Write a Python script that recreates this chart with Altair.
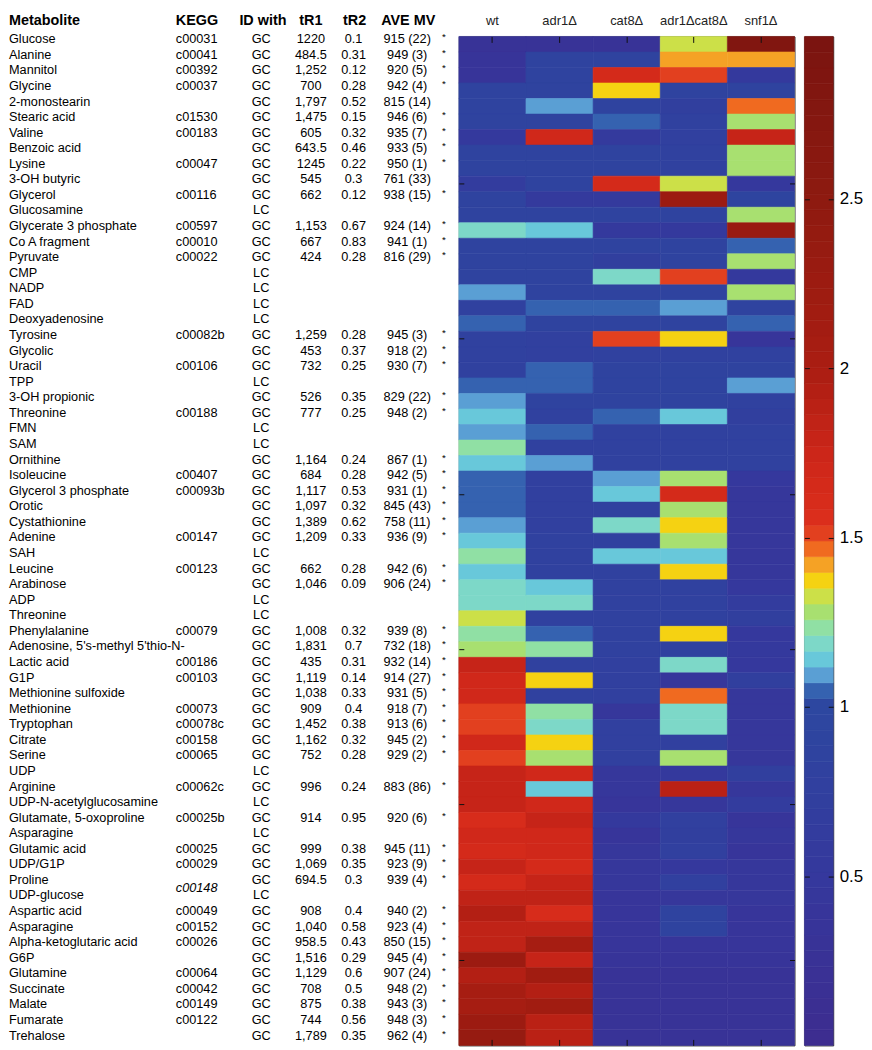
import altair as alt
import numpy as np
import pandas as pd

FONT = "Liberation Sans"

metabolites = ["Glucose", "Alanine", "Mannitol", "Glycine", "2-monostearin", "Stearic acid", "Valine",
               "Benzoic acid", "Lysine", "3-OH butyric", "Glycerol", "Glucosamine", "Glycerate 3 phosphate",
               "Co A fragment", "Pyruvate", "CMP", "NADP", "FAD", "Deoxyadenosine", "Tyrosine", "Glycolic",
               "Uracil", "TPP", "3-OH propionic", "Threonine", "FMN", "SAM", "Ornithine", "Isoleucine",
               "Glycerol 3 phosphate", "Orotic", "Cystathionine", "Adenine", "SAH", "Leucine", "Arabinose",
               "ADP", "Threonine", "Phenylalanine", "Adenosine, 5's-methyl 5'thio-N-", "Lactic acid", "G1P",
               "Methionine sulfoxide", "Methionine", "Tryptophan", "Citrate", "Serine", "UDP", "Arginine",
               "UDP-N-acetylglucosamine", "Glutamate, 5-oxoproline", "Asparagine", "Glutamic acid", "UDP/G1P",
               "Proline", "UDP-glucose", "Aspartic acid", "Asparagine", "Alpha-ketoglutaric acid", "G6P",
               "Glutamine", "Succinate", "Malate", "Fumarate", "Trehalose"]

kegg = ["c00031", "c00041", "c00392", "c00037", "", "c01530", "c00183", "", "c00047", "",
        "c00116", "", "c00597", "c00010", "c00022", "", "", "", "", "c00082b",
        "", "c00106", "", "", "c00188", "", "", "", "c00407", "c00093b",
        "", "", "c00147", "", "c00123", "", "", "", "c00079", "",
        "c00186", "c00103", "", "c00073", "c00078c", "c00158", "c00065", "", "c00062c", "",
        "c00025b", "", "c00025", "c00029", "c00148", "", "c00049", "c00152", "c00026", "",
        "c00064", "c00042", "c00149", "c00122", ""]

id_with = ["GC", "GC", "GC", "GC", "GC", "GC", "GC", "GC", "GC", "GC",
           "GC", "LC", "GC", "GC", "GC", "LC", "LC", "LC", "LC", "GC",
           "GC", "GC", "LC", "GC", "GC", "LC", "LC", "GC", "GC", "GC",
           "GC", "GC", "GC", "LC", "GC", "GC", "LC", "LC", "GC", "GC",
           "GC", "GC", "GC", "GC", "GC", "GC", "GC", "LC", "GC", "LC",
           "GC", "LC", "GC", "GC", "GC", "LC", "GC", "GC", "GC", "GC",
           "GC", "GC", "GC", "GC", "GC"]

tr1 = ["1220", "484.5", "1,252", "700", "1,797", "1,475", "605", "643.5", "1245", "545",
       "662", "", "1,153", "667", "424", "", "", "", "", "1,259",
       "453", "732", "", "526", "777", "", "", "1,164", "684", "1,117",
       "1,097", "1,389", "1,209", "", "662", "1,046", "", "", "1,008", "1,831",
       "435", "1,119", "1,038", "909", "1,452", "1,162", "752", "", "996", "",
       "914", "", "999", "1,069", "694.5", "", "908", "1,040", "958.5", "1,516",
       "1,129", "708", "875", "744", "1,789"]

tr2 = ["0.1", "0.31", "0.12", "0.28", "0.52", "0.15", "0.32", "0.46", "0.22", "0.3",
       "0.12", "", "0.67", "0.83", "0.28", "", "", "", "", "0.28",
       "0.37", "0.25", "", "0.35", "0.25", "", "", "0.24", "0.28", "0.53",
       "0.32", "0.62", "0.33", "", "0.28", "0.09", "", "", "0.32", "0.7",
       "0.31", "0.14", "0.33", "0.4", "0.38", "0.32", "0.28", "", "0.24", "",
       "0.95", "", "0.38", "0.35", "0.3", "", "0.4", "0.58", "0.43", "0.29",
       "0.6", "0.5", "0.38", "0.56", "0.35"]

ave_mv = ["915 (22)", "949 (3)", "920 (5)", "942 (4)", "815 (14)", "946 (6)", "935 (7)", "933 (5)", "950 (1)", "761 (33)",
          "938 (15)", "", "924 (14)", "941 (1)", "816 (29)", "", "", "", "", "945 (3)",
          "918 (2)", "930 (7)", "", "829 (22)", "948 (2)", "", "", "867 (1)", "942 (5)", "931 (1)",
          "845 (43)", "758 (11)", "936 (9)", "", "942 (6)", "906 (24)", "", "", "939 (8)", "732 (18)",
          "932 (14)", "914 (27)", "931 (5)", "918 (7)", "913 (6)", "945 (2)", "929 (2)", "", "883 (86)", "",
          "920 (6)", "", "945 (11)", "923 (9)", "939 (4)", "", "940 (2)", "923 (4)", "850 (15)", "945 (4)",
          "907 (24)", "948 (2)", "943 (3)", "948 (3)", "962 (4)"]

star = ["*", "*", "*", "*", "", "*", "*", "*", "*", "",
        "*", "", "*", "*", "*", "", "", "", "", "*",
        "*", "*", "", "*", "*", "", "", "*", "*", "*",
        "*", "*", "*", "", "*", "*", "", "", "*", "*",
        "*", "*", "*", "*", "*", "*", "*", "", "*", "",
        "*", "", "*", "*", "*", "", "*", "*", "*", "*",
        "*", "*", "*", "*", "*"]

strains = ["wt", "adr1Δ", "cat8Δ", "adr1Δcat8Δ", "snf1Δ"]

wt = [0.3, 0.35, 0.35, 0.85, 0.85, 0.85, 0.55, 0.85, 0.85, 0.65,
      0.85, 0.85, 1.19, 0.85, 0.85, 0.85, 1.09, 0.8, 1.05, 0.8,
      0.8, 0.8, 1.05, 1.09, 1.14, 1.09, 1.23, 1.14, 1.05, 1.05,
      1.05, 1.09, 1.14, 1.23, 1.14, 1.19, 1.19, 1.33, 1.23, 1.28,
      1.78, 1.68, 1.68, 1.52, 1.52, 1.72, 1.52, 1.78, 1.78, 1.8,
      1.62, 1.72, 1.65, 1.8, 1.65, 1.85, 1.92, 1.82, 1.85, 2.25,
      1.95, 2.05, 2.05, 2.25, 2.35]
adr1 = [0.3, 0.85, 0.85, 0.85, 1.09, 0.85, 1.7, 0.85, 0.85, 0.85,
        0.6, 0.85, 1.14, 0.85, 0.85, 0.85, 0.85, 1.05, 0.85, 0.75,
        0.75, 1.05, 1.05, 0.85, 0.8, 1.05, 0.8, 1.09, 0.75, 0.75,
        0.75, 0.75, 0.8, 0.8, 0.8, 1.14, 1.19, 0.8, 1.05, 1.23,
        0.8, 1.37, 0.8, 1.23, 1.19, 1.37, 1.28, 1.7, 1.14, 1.68,
        1.8, 1.68, 1.7, 1.65, 1.8, 1.82, 1.6, 1.82, 2.05, 1.8,
        2.15, 1.95, 2.15, 1.88, 1.88]
cat8 = [0.3, 0.85, 1.65, 1.37, 0.85, 1.05, 0.6, 0.85, 0.85, 1.65,
        0.6, 0.85, 0.55, 0.85, 0.7, 1.19, 0.85, 1.05, 0.85, 1.51,
        0.8, 0.85, 0.85, 0.85, 1.05, 0.8, 0.8, 0.8, 1.09, 1.14,
        0.8, 1.19, 0.8, 1.14, 0.8, 0.8, 0.8, 0.8, 0.8, 0.8,
        0.75, 0.75, 0.75, 0.45, 0.75, 0.75, 0.75, 0.45, 0.45, 0.4,
        0.55, 0.4, 0.45, 0.45, 0.45, 0.4, 0.4, 0.4, 0.4, 0.35,
        0.3, 0.3, 0.3, 0.3, 0.3]
adr1cat8 = [1.33, 1.42, 1.51, 0.85, 0.7, 0.8, 0.75, 0.8, 0.8, 1.33,
            2.25, 0.85, 0.55, 0.85, 0.85, 1.51, 0.85, 1.09, 0.85, 1.37,
            0.8, 0.85, 0.85, 0.85, 1.14, 0.8, 0.8, 0.8, 1.28, 1.65,
            1.28, 1.37, 1.28, 1.14, 1.37, 0.8, 0.8, 0.8, 1.37, 0.8,
            1.19, 0.45, 1.47, 1.19, 1.19, 0.75, 1.28, 0.55, 1.9, 0.45,
            0.75, 0.7, 0.75, 0.5, 0.75, 0.45, 0.85, 0.85, 0.4, 0.35,
            0.3, 0.3, 0.3, 0.3, 0.3]
snf1 = [2.8, 1.42, 0.55, 0.85, 1.47, 1.28, 1.78, 1.28, 1.28, 0.5,
        0.9, 1.28, 2.3, 1.05, 1.28, 0.55, 1.28, 0.85, 1.05, 0.4,
        0.8, 0.85, 1.09, 0.8, 0.7, 0.8, 0.8, 0.8, 0.5, 0.45,
        0.45, 0.45, 0.45, 0.45, 0.45, 0.5, 0.65, 0.7, 0.5, 0.55,
        0.5, 0.7, 0.45, 0.45, 0.45, 0.45, 0.45, 0.7, 0.45, 0.65,
        0.4, 0.45, 0.4, 0.45, 0.45, 0.45, 0.4, 0.4, 0.4, 0.35,
        0.3, 0.3, 0.3, 0.3, 0.3]

colorbar_ticks = [0.5, 1, 1.5, 2, 2.5]
CMAX = 2.98
NBINS = 64

# ---- colormap (64 discrete levels) ----
def _rgb(h):
    return [int(h[i:i + 2], 16) for i in (1, 3, 5)]

def _hex(c):
    return "#" + "".join(f"{int(round(v)):02x}" for v in c)

def _ramp(anchors, vals):
    xs = [a[0] for a in anchors]
    cs = np.array([_rgb(a[1]) for a in anchors], dtype=float)
    return [_hex([np.interp(v, xs, cs[:, j]) for j in range(3)]) for v in vals]

step = CMAX / NBINS
centers = [(k + 0.5) * step for k in range(NBINS)]
blue_part = _ramp([(0.0, "#3d2c8f"), (0.5, "#35389d"), (1.0, "#2d47a0")], centers[:22])
mid_part = ["#3562b0", "#5a9fd4", "#68c8da", "#7dd8c8", "#90e0a4", "#a8e070",
            "#cce048", "#f5d212", "#f5a225", "#f06a20", "#e2401f"]
red_part = _ramp([(1.55, "#dc2e1c"), (1.75, "#cc2619"), (2.0, "#aa1d12"),
                  (2.5, "#8e1a10"), (2.98, "#7a1410")], centers[33:])
palette = blue_part + mid_part + red_part

cscale = alt.Scale(type="quantize", domain=[0, CMAX], range=palette, nice=False, zero=False)

# ---- data frames ----
n = len(metabolites)
tbl_df = pd.DataFrame({"idx": list(range(n)), "met": metabolites, "kegg": kegg, "idw": id_with,
                       "tr1": tr1, "tr2": tr2, "ave": ave_mv, "star": star})
series = [wt, adr1, cat8, adr1cat8, snf1]
heat_df = pd.DataFrame([{"idx": i, "strain": s, "value": series[j][i]}
                        for j, s in enumerate(strains) for i in range(n)])
edges = np.linspace(0, CMAX, NBINS + 1)
cb_df = pd.DataFrame({"lo": edges[:-1], "hi": edges[1:], "mid": (edges[:-1] + edges[1:]) / 2, "bar": "cb"})

H = 1016
HM_W = 338
TBL_W = 443
CB_W = 29
BODY = 12.8
ROW_DY = -5

# ---- table panel ----
ty = alt.Y("idx:O", axis=None, scale=alt.Scale(type="point", padding=0.5))

def col(field, x, align, df=tbl_df, **kw):
    props = dict(align=align, baseline="middle", dy=ROW_DY, fontSize=BODY, font=FONT, color="black")
    props.update(kw)
    return alt.Chart(df).mark_text(**props).encode(x=alt.value(x), y=ty, text=f"{field}:N")

def head(label, x, align):
    return alt.Chart(pd.DataFrame({"h": [label]})).mark_text(
        align=align, baseline="middle", fontSize=14.5, fontWeight="bold", font=FONT, color="black"
    ).encode(x=alt.value(x), y=alt.value(-16), text="h:N")

kegg_plain = alt.Chart(tbl_df).transform_filter("datum.idx != 54").mark_text(
    align="left", baseline="middle", dy=ROW_DY, fontSize=BODY, font=FONT, color="black"
).encode(x=alt.value(168), y=ty, text="kegg:N")
kegg_italic = alt.Chart(tbl_df).transform_filter("datum.idx == 54").mark_text(
    align="left", baseline="middle", dy=ROW_DY + 8, fontSize=BODY, font=FONT, color="black", fontStyle="italic"
).encode(x=alt.value(168), y=ty, text="kegg:N")

table = alt.layer(
    col("met", 0, "left"),
    kegg_plain, kegg_italic,
    col("idw", 254, "center"),
    col("tr1", 304, "center"),
    col("tr2", 347, "center"),
    col("ave", 401, "center"),
    col("star", 438, "center", fontSize=10, dy=ROW_DY - 2),
    head("Metabolite", 0, "left"),
    head("KEGG", 168, "left"),
    head("ID with", 232, "left"),
    head("tR1", 304, "center"),
    head("tR2", 348, "center"),
    head("AVE MV", 402, "center"),
).properties(width=TBL_W, height=H + 3, view=alt.ViewBackground(stroke="transparent"))

# ---- heatmap panel ----
xs = alt.Scale(domain=strains, paddingInner=0, paddingOuter=0)
ys = alt.Scale(paddingInner=0, paddingOuter=0)
ytick_rows = [9, 19, 29, 39, 49, 59]

hmA = alt.Chart(heat_df).mark_rect(strokeWidth=0.6).encode(
    x=alt.X("strain:N", sort=strains, scale=xs, title=None,
            axis=alt.Axis(orient="top", offset=-6, tickSize=6, labelPadding=9, domain=False,
                          labelAngle=0, labelFontSize=13, labelColor="#222", labelFont=FONT,
                          tickColor="#111", zindex=2)),
    y=alt.Y("idx:O", scale=ys, title=None,
            axis=alt.Axis(orient="left", offset=-5, tickSize=5, values=ytick_rows, labels=False,
                          domain=False, tickColor="#111", zindex=2)),
    color=alt.Color("value:Q", scale=cscale, legend=None),
    stroke=alt.Stroke("value:Q", scale=cscale, legend=None),
)
hmB = alt.Chart(heat_df).mark_rect(opacity=0).encode(
    x=alt.X("strain:N", sort=strains, scale=xs, title=None,
            axis=alt.Axis(orient="bottom", offset=-6, tickSize=6, labels=False, domain=False,
                          tickColor="#111", zindex=2)),
    y=alt.Y("idx:O", scale=ys, title=None,
            axis=alt.Axis(orient="right", offset=-5, tickSize=5, values=ytick_rows, labels=False,
                          domain=False, tickColor="#111", zindex=2)),
)
heat = alt.layer(hmA, hmB).resolve_axis(x="independent", y="independent").properties(
    width=HM_W, height=H, view=alt.ViewBackground(stroke="#222", strokeWidth=1))

# ---- colorbar panel ----
cb_x = alt.X("bar:N", axis=None, scale=alt.Scale(paddingInner=0, paddingOuter=0))
cb_yscale = alt.Scale(domain=[0, CMAX], nice=False, zero=False)
cbA = alt.Chart(cb_df).mark_rect(strokeWidth=0.6).encode(
    x=cb_x,
    y=alt.Y("lo:Q", scale=cb_yscale, title=None,
            axis=alt.Axis(orient="right", offset=-5, tickSize=5, values=colorbar_ticks, labelFontSize=17,
                          labelFont=FONT, labelColor="black", labelPadding=6, domain=False, grid=False,
                          tickColor="#111", labelExpr="'' + datum.value", zindex=2)),
    y2="hi:Q",
    color=alt.Color("mid:Q", scale=cscale, legend=None),
    stroke=alt.Stroke("mid:Q", scale=cscale, legend=None),
)
cbB = alt.Chart(cb_df).mark_rect(opacity=0).encode(
    x=cb_x,
    y=alt.Y("lo:Q", scale=cb_yscale, title=None,
            axis=alt.Axis(orient="left", offset=-5, tickSize=5, values=colorbar_ticks, labels=False,
                          domain=False, grid=False, tickColor="#111", zindex=2)),
    y2="hi:Q",
)
cbar = alt.layer(cbA, cbB).resolve_axis(y="independent").properties(
    width=CB_W, height=H, view=alt.ViewBackground(stroke="#222", strokeWidth=1))

chart = alt.hconcat(table, heat, cbar, spacing=10, bounds="flush").properties(
    padding={"top": 0, "left": 0, "right": 0, "bottom": 0}
).configure_view(stroke="#222").configure_axis(grid=False).configure(background="white")

chart.save("out.html", embed_options={"renderer": "svg", "actions": False})
